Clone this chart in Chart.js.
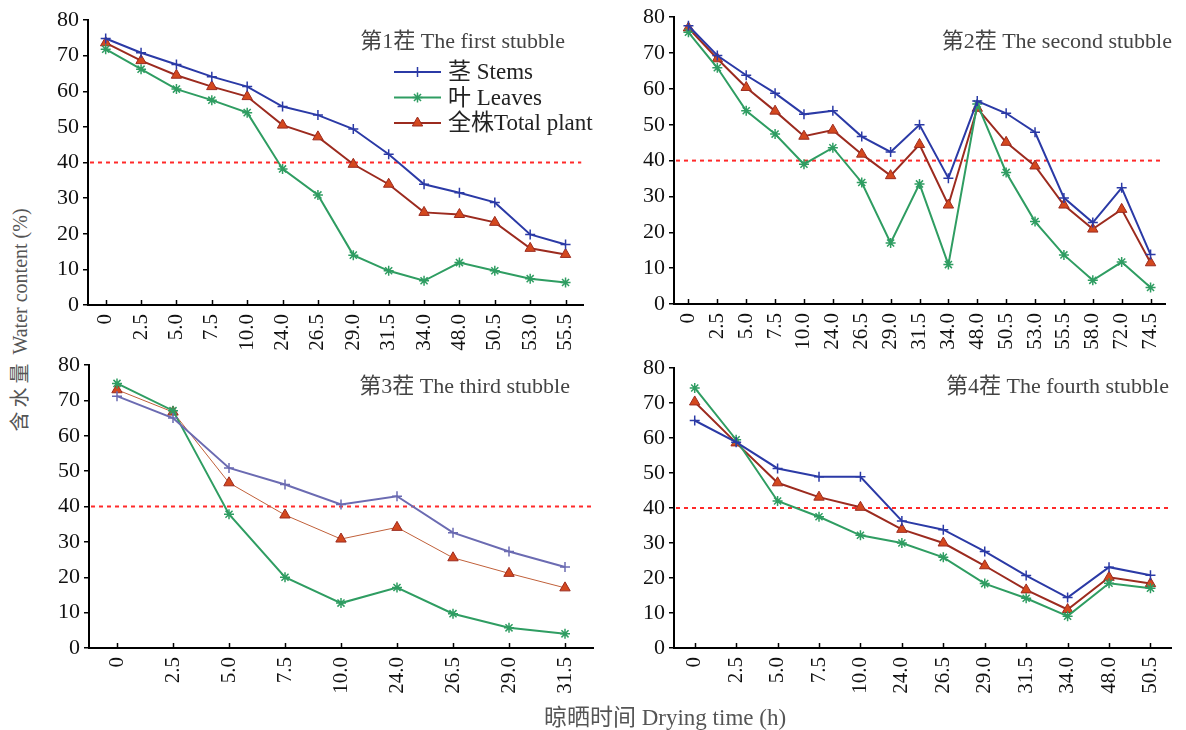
<!DOCTYPE html>
<html>
<head>
<meta charset="utf-8">
<script src="https://cdn.jsdelivr.net/npm/chart.js@4.4.0/dist/chart.umd.min.js"></script>
<style>
  body { margin: 0; background: #fff; }
  #wrap { position: relative; width: 1186px; height: 730px; overflow: hidden; }
  canvas { position: absolute; }
  .ttl { position: absolute; font-family: "Liberation Serif", "Noto Sans CJK SC", serif; color: #555; white-space: nowrap; }
  #ytitle { font-size: 20px; left: 18px; top: 320px; transform: translate(-50%, -50%) rotate(-90deg); }
  #ytitle span { letter-spacing: 4px; }
  #xtitle { font-size: 23px; left: 665px; top: 715px; transform: translate(-50%, -50%); }
</style>
</head>
<body>
<div id="wrap">
  <canvas id="c1" width="560" height="360" style="left:40px;top:0px"></canvas>
  <canvas id="c2" width="555" height="360" style="left:630px;top:0px"></canvas>
  <canvas id="c3" width="560" height="360" style="left:40px;top:345px"></canvas>
  <canvas id="c4" width="555" height="360" style="left:630px;top:345px"></canvas>
  <div class="ttl" id="ytitle"><span>含水量</span> Water content (%)</div>
  <div class="ttl" id="xtitle">晾晒时间 Drying time (h)</div>
</div>
<script>
// drying time categories (h)
const labels1 = ["0", "2.5", "5.0", "7.5", "10.0", "24.0", "26.5", "29.0", "31.5", "34.0", "48.0", "50.5", "53.0", "55.5"]
const labels2 = ["0", "2.5", "5.0", "7.5", "10.0", "24.0", "26.5", "29.0", "31.5", "34.0", "48.0", "50.5", "53.0", "55.5", "58.0", "72.0", "74.5"]
const labels3 = ["0", "2.5", "5.0", "7.5", "10.0", "24.0", "26.5", "29.0", "31.5"]
const labels4 = ["0", "2.5", "5.0", "7.5", "10.0", "24.0", "26.5", "29.0", "31.5", "34.0", "48.0", "50.5"]

// water content (%)
const stems1 = [74.8, 70.8, 67.5, 64.1, 61.3, 55.7, 53.3, 49.4, 42.3, 33.9, 31.5, 28.8, 19.8, 17.0]
const leaves1 = [71.8, 66.2, 60.6, 57.5, 54.0, 38.2, 30.9, 14.0, 9.6, 6.8, 11.9, 9.6, 7.4, 6.3]
const total1 = [73.6, 68.6, 64.5, 61.3, 58.5, 50.5, 47.2, 39.5, 33.9, 26.0, 25.4, 23.2, 15.9, 14.2]

const stems2 = [77.6, 69.3, 63.8, 58.8, 52.9, 53.9, 46.7, 42.4, 50.0, 35.1, 56.6, 53.2, 47.9, 29.6, 22.7, 32.4, 13.8]
const leaves2 = [75.8, 65.9, 53.9, 47.4, 39.0, 43.6, 33.9, 17.0, 33.5, 11.0, 55.8, 36.7, 23.0, 13.7, 6.6, 11.7, 4.6]
const total2 = [77.0, 68.4, 60.4, 53.8, 46.8, 48.5, 41.8, 35.8, 44.5, 27.6, 54.6, 45.1, 38.5, 27.6, 20.9, 26.4, 11.5]

const stems3 = [71.2, 65.0, 50.9, 46.2, 40.6, 42.9, 32.6, 27.3, 22.9]
const leaves3 = [74.8, 67.1, 37.8, 20.0, 12.7, 17.1, 9.7, 5.7, 4.0]
const total3 = [73.0, 66.7, 46.7, 37.6, 30.8, 34.1, 25.5, 21.1, 17.0]

const stems4 = [65.0, 58.8, 51.3, 48.9, 48.9, 36.3, 33.8, 27.6, 20.7, 14.4, 23.1, 20.8]
const leaves4 = [74.3, 59.5, 42.0, 37.5, 32.2, 30.0, 25.9, 18.4, 14.2, 9.1, 18.5, 17.1]
const total4 = [70.3, 58.6, 47.2, 43.1, 40.2, 33.9, 30.0, 23.5, 16.6, 11.0, 20.2, 18.4]

const titles = ["第1茬 The first stubble", "第2茬 The second stubble", "第3茬 The third stubble", "第4茬 The fourth stubble"]
const legendNames = ["茎 Stems", "叶 Leaves", "全株Total plant"]
const thresholdLine = 40

const SERIF = '"Liberation Serif", "Noto Sans CJK SC", serif'
const BLUE = "#2b3aa6", GREEN = "#2f9d62", RED = "#9c2b1f", TRI = "#d4481e"

const panels = [
  { id: "c1", labels: labels1, s: stems1, l: leaves1, t: total1, yw: 48, xh: 55, pad: { top: 20, right: 5 }, title: titles[0], tx: 525, ty: 42, legend: true },
  { id: "c2", labels: labels2, s: stems2, l: leaves2, t: total2, yw: 44, xh: 56, pad: { top: 14, right: 8 }, title: titles[1], tx: 542, ty: 42 },
  { id: "c3", labels: labels3, s: stems3, l: leaves3, t: total3, yw: 49, xh: 57, pad: { top: 20, right: 5 }, title: titles[2], tx: 530, ty: 42, stemColor: "#6b6bb2", thin: true },
  { id: "c4", labels: labels4, s: stems4, l: leaves4, t: total4, yw: 44, xh: 57, pad: { top: 23, right: 8 }, title: titles[3], tx: 539, ty: 42 }
]

const overlay = {
  id: "overlay",
  afterDraw(chart, args, opts) {
    const { ctx, chartArea: a, scales: { x, y } } = chart
    ctx.save()
    // inward ticks on the x axis
    ctx.strokeStyle = "#000"
    ctx.lineWidth = 1.5
    x.ticks.forEach((t, i) => {
      const px = Math.round(x.getPixelForTick(i)) + 0.5
      ctx.beginPath(); ctx.moveTo(px, a.bottom); ctx.lineTo(px, a.bottom - 5); ctx.stroke()
    })
    // title
    ctx.fillStyle = "#444"
    ctx.font = "22px " + SERIF
    ctx.textAlign = "right"
    ctx.textBaseline = "middle"
    ctx.fillText(opts.title, opts.tx, opts.ty)
    // legend
    if (opts.legend) {
      const ds = chart.data.datasets
      legendNames.forEach((name, i) => {
        const ly = 72 + i * 25.5, x0 = 354, x1 = 401
        const d = ds[i]
        ctx.strokeStyle = d.borderColor
        ctx.lineWidth = 2
        ctx.beginPath(); ctx.moveTo(x0, ly); ctx.lineTo(x1, ly); ctx.stroke()
        ctx.fillStyle = d.pointBackgroundColor
        ctx.strokeStyle = d.pointBorderColor
        ctx.lineWidth = d.pointBorderWidth
        Chart.helpers.drawPoint(ctx, { pointStyle: d.pointStyle, radius: d.pointRadius, borderWidth: d.pointBorderWidth, rotation: 0 }, (x0 + x1) / 2, ly)
        ctx.fillStyle = "#222"
        ctx.font = "23px " + SERIF
        ctx.textAlign = "left"
        ctx.fillText(name, 408, ly + 1)
      })
    }
    ctx.restore()
  },
  beforeDatasetsDraw(chart) {
    const { ctx, chartArea: a, scales: { y } } = chart
    const py = y.getPixelForValue(thresholdLine)
    ctx.save()
    ctx.strokeStyle = "#ff2a2a"
    ctx.lineWidth = 2
    ctx.setLineDash([4, 4])
    ctx.beginPath(); ctx.moveTo(a.left + 2, py); ctx.lineTo(a.right - 2, py); ctx.stroke()
    ctx.restore()
  }
}

panels.forEach(p => {
  const stemColor = p.stemColor || BLUE
  new Chart(document.getElementById(p.id), {
    type: "line",
    data: {
      labels: p.labels,
      datasets: [
        { label: legendNames[0], data: p.s, borderColor: stemColor, borderWidth: 2, pointStyle: "cross", pointRadius: 5,
          pointBorderColor: stemColor, pointBackgroundColor: stemColor, pointBorderWidth: 1.5, tension: 0 },
        { label: legendNames[1], data: p.l, borderColor: GREEN, borderWidth: 2, pointStyle: "star", pointRadius: 5,
          pointBorderColor: GREEN, pointBackgroundColor: GREEN, pointBorderWidth: 1.5, tension: 0 },
        { label: legendNames[2], data: p.t, borderColor: p.thin ? "#c0603a" : RED, borderWidth: p.thin ? 1 : 2, pointStyle: "triangle", pointRadius: 6,
          pointBorderColor: RED, pointBackgroundColor: TRI, pointBorderWidth: 1, tension: 0 }
      ]
    },
    options: {
      responsive: false,
      animation: false,
      layout: { padding: { left: 0, top: p.pad.top, right: p.pad.right, bottom: 0 } },
      plugins: {
        legend: { display: false },
        tooltip: { enabled: false },
        overlay: { title: p.title, tx: p.tx, ty: p.ty, legend: !!p.legend }
      },
      scales: {
        x: {
          offset: true,
          grid: { display: false, drawTicks: false },
          border: { display: true, color: "#000", width: 2 },
          ticks: { autoSkip: false, minRotation: 90, maxRotation: 90, padding: 9, color: "#111", font: { family: SERIF, size: 21 } },
          afterFit(s) { s.height = p.xh }
        },
        y: {
          min: 0, max: 80,
          grid: { drawOnChartArea: false, drawTicks: true, tickLength: 5, color: "#000", lineWidth: 1.5 },
          border: { display: true, color: "#000", width: 2 },
          ticks: { stepSize: 10, padding: 4, color: "#111", font: { family: SERIF, size: 22 } },
          afterFit(s) { s.width = p.yw }
        }
      }
    },
    plugins: [overlay]
  })
})
</script>
</body>
</html>
